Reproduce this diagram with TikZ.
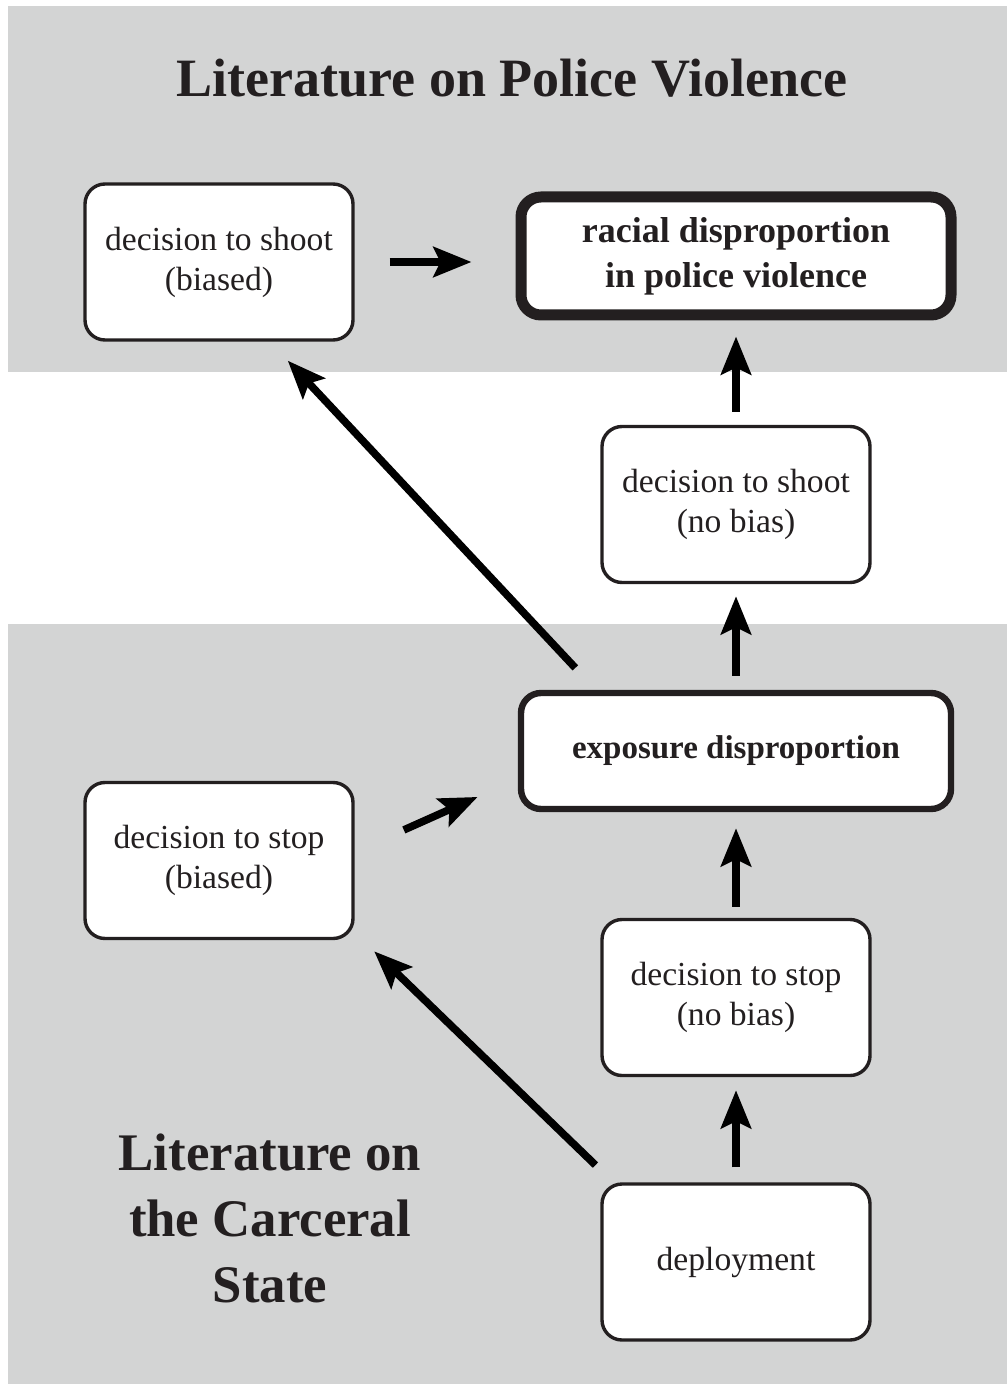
\documentclass[tikz,border=0pt]{standalone}
\usepackage{fontspec}
\setmainfont{Liberation Serif}
\usetikzlibrary{arrows.meta}
\definecolor{bandgray}{RGB}{211,212,212}
\definecolor{ink}{RGB}{35,31,32}
\begin{document}
\begin{tikzpicture}[x=0.5pt,y=-0.5pt,
    box/.style={draw=ink,fill=white,rounded corners=10pt,line width=1.7pt,
      minimum width=134pt,minimum height=78pt,align=center,text=ink,
      font=\fontsize{16.8}{20}\selectfont},
    bigbox/.style={box,font=\fontsize{18}{22.5}\selectfont\bfseries},
    title/.style={text=ink,align=center,font=\fontsize{27}{33}\selectfont\bfseries},
    arr/.style={-{Stealth[length=19pt,width=15pt,inset=3.5pt]},line width=3.8pt,black}]
  \useasboundingbox (0,0) rectangle (1007,1384);
  \fill[bandgray] (8,6) rectangle (1007,372);
  \fill[bandgray] (8,624) rectangle (1007,1384);
  \draw
    (512,97) node[title,anchor=base] (top){Literature on Police Violence}
    (270,1218) node[title,font=\fontsize{26.4}{33}\selectfont\bfseries] (bottom){Literature on\\the Carceral\\State}
    (219,262) node[box] (shootB){decision to shoot\\(biased)}
    (736,256) node[bigbox,line width=5.5pt,minimum width=215pt,minimum height=59pt] (racial){racial disproportion\\in police violence}
    (736,504.5) node[box] (shootN){decision to shoot\\(no bias)}
    (736,751) node[bigbox,line width=3.2pt,minimum width=215pt,minimum height=58pt,font=\fontsize{16.5}{20}\selectfont\bfseries] (exposure){exposure disproportion}
    (219,860.5) node[box] (stopB){decision to stop\\(biased)}
    (736,997.5) node[box] (stopN){decision to stop\\(no bias)}
    (736,1262) node[box] (deploy){deployment};
  \begin{scope}[arr]
    \draw[shorten <=17.5pt,shorten >=22pt] (shootB.east) to (shootB.east -| racial.west);
    \draw[shorten <=6.5pt,shorten >=8pt] (shootN.north) to (racial.south);
    \draw[shorten <=7pt,shorten >=6pt] (exposure.north) to (shootN.south);
    \draw[shorten <=15pt,shorten >=13pt] ([xshift=39pt]exposure.north west) to ([xshift=25.5pt]shootB.south);
    \draw[shorten <=26.9pt,shorten >=22pt] ([yshift=4.3pt]stopB.east) to ([yshift=-14pt]exposure.west);
    \draw[shorten <=5.5pt,shorten >=8pt] (stopN.north) to (exposure.south);
    \draw[shorten <=7.5pt,shorten >=6.5pt] (deploy.north) to (stopN.south);
    \draw[shorten <=12.4pt,shorten >=8pt] ([xshift=6.5pt]deploy.north west) to ([xshift=4pt]stopB.south east);
  \end{scope}
\end{tikzpicture}
\end{document}
